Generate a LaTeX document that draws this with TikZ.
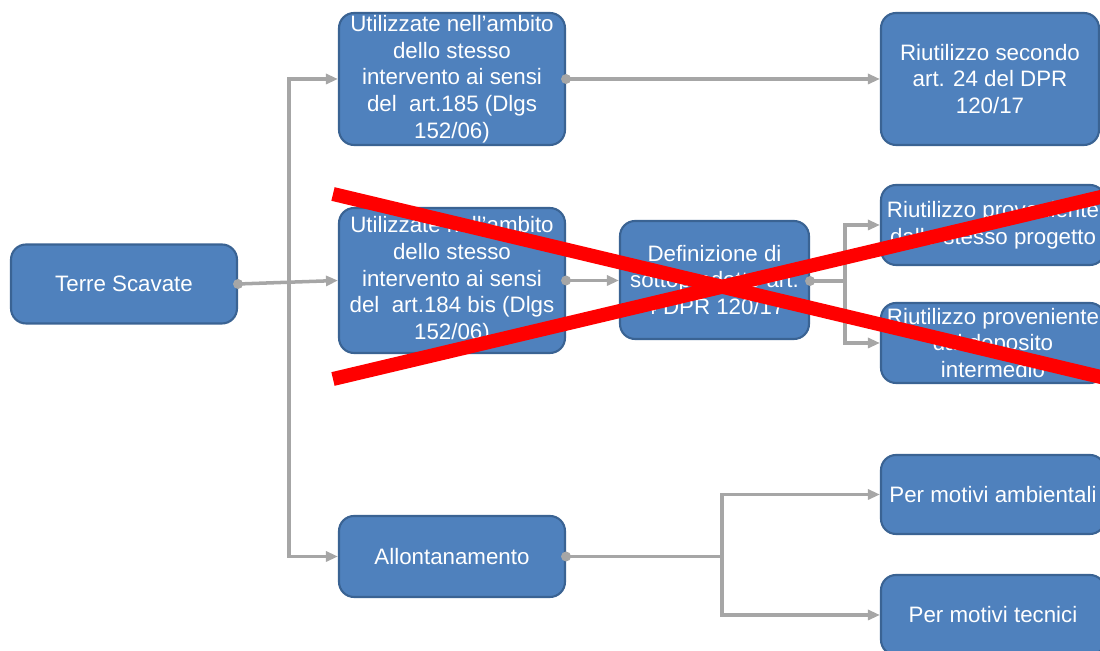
\documentclass[tikz,border=0pt]{standalone}
\usepackage{fontspec}
\setmainfont{Liberation Sans}
\usetikzlibrary{positioning,arrows.meta}

\definecolor{boxblue}{HTML}{4F81BD}
\definecolor{boxedge}{HTML}{3A6393}
\definecolor{linkgray}{HTML}{A6A6A6}

\begin{document}
\begin{tikzpicture}[
            x=0.02cm, y=-0.02cm,
            box/.style={draw=boxedge, fill=boxblue, rounded corners=0.3cm, line width=1.2pt,
                text=white, align=center, inner sep=0pt, font=\fontsize{12.7}{15.2}\selectfont},
            wide/.style={box, minimum width=4.52cm},
            side/.style={box, minimum width=4.48cm},
            link/.style={draw=linkgray, line width=2pt, -{Triangle[length=0.24cm,width=0.2cm]}},
            plain/.style={draw=linkgray, line width=2pt},
            cross/.style={draw=red, line width=0.28cm}
        ]
            \useasboundingbox (0,0) rectangle (1100,651);
            \clip (0,0) rectangle (1100,651);

            % Boxes
            \node[wide, minimum height=1.58cm] (ts) at (124,284) {Terre Scavate};
            \node[wide, minimum height=2.64cm] (ua) at (452,79)
                {Utilizzate nell'ambito\\dello stesso\\intervento ai sensi\\del\ \ art.185 (Dlgs\\152/06)};
            \node[wide, minimum height=2.9cm] (ub) at (452,280.5)
                {Utilizzate nell'ambito\\dello stesso\\intervento ai sensi\\del\ \ art.184 bis (Dlgs\\152/06)};
            \node[wide, minimum height=1.62cm] (al) at (452,556.5) {Allontanamento};
            \node[box, minimum width=3.78cm, minimum height=2.36cm] (def) at (714.5,280)
                {Definizione di\\sottoprodotto art.\\4 DPR 120/17};

            \node[side, minimum width=4.36cm, minimum height=2.64cm] (r1) at (990,79) {Riutilizzo secondo\\art. 24 del DPR\\120/17};
            \node[side, minimum height=1.6cm] (r2) at (993,225) {Riutilizzo proveniente\\dallo stesso progetto};
            \node[side, minimum height=1.6cm] (r3) at (993,343) {Riutilizzo proveniente\\dal deposito\\intermedio};
            \node[side, minimum height=1.58cm] (r4) at (993,494.5) {Per motivi ambientali};
            \node[side, minimum height=1.6cm] (r5) at (993,615) {Per motivi tecnici};

            % Junctions
            \coordinate (j1) at (289,284);
            \coordinate (j2) at (845,281);
            \coordinate (j3) at (722,556.5);

            % Connectors
            \draw[link] (ts.east) -- (ub.west);
            \draw[link] (j1) |- (ua.west);
            \draw[link] (j1) |- (al.west);
            \draw[link] (ua.east) -- (r1.west |- ua.east);
            \draw[link] (ub.east) -- (def.west |- ub.east);
            \draw[plain] (def.east |- j2) -- (j2);
            \draw[link] (j2) |- (r2.west);
            \draw[link] (j2) |- (r3.west);
            \draw[plain] (al.east) -- (j3);
            \draw[link] (j3) |- (r4.west);
            \draw[link] (j3) |- (r5.west);

            % Dots
            \foreach \p in {ts.east, ua.east, ub.east, al.east, def.east |- j2}
                \fill[linkgray] (\p) circle (0.1cm);

            % Cross
            \draw[cross] (333,194) -- (1105,378);
            \draw[cross] (333,379) -- (1105,196);
        \end{tikzpicture}
\end{document}
